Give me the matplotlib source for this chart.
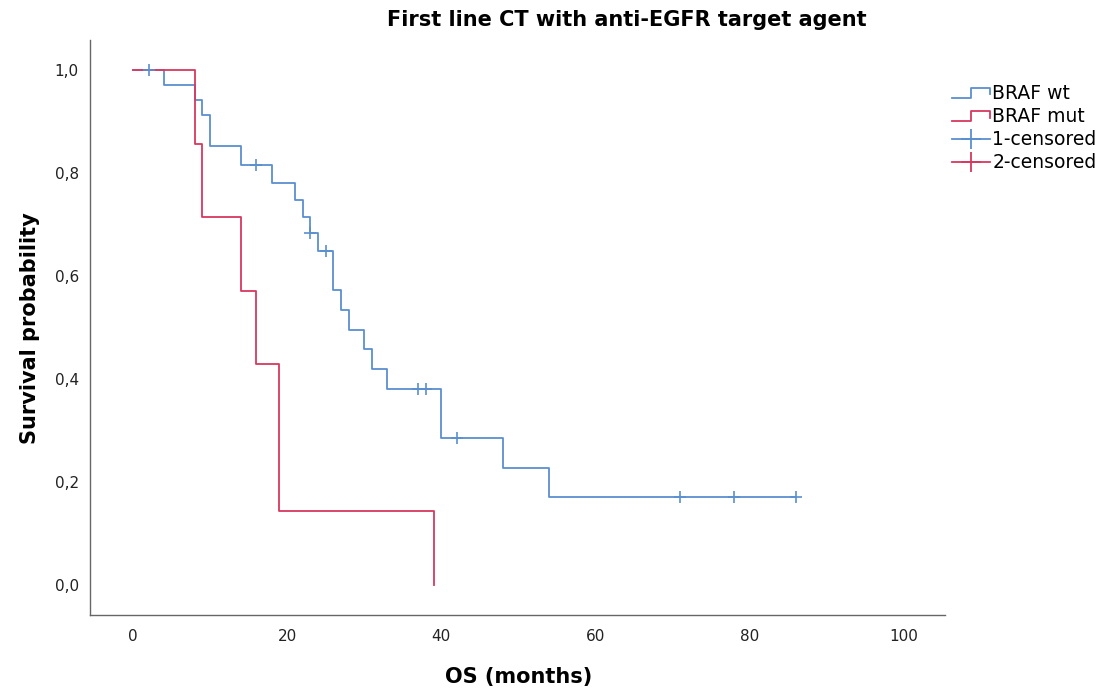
import numpy as np
import matplotlib
matplotlib.use('Agg')
import matplotlib.pyplot as plt
from matplotlib.legend_handler import HandlerLine2D
from matplotlib.lines import Line2D

# Kaplan-Meier step data
wt_times = [0, 4, 8, 9, 10, 14, 18, 21, 22, 23, 24, 26, 27, 28, 30, 31, 33, 40, 48, 54, 86]
wt_surv = [1.0, 0.971, 0.941, 0.912, 0.853, 0.815, 0.781, 0.748, 0.715, 0.683, 0.649,
           0.573, 0.534, 0.495, 0.458, 0.419, 0.381, 0.286, 0.227, 0.171, 0.171]
wt_censor = [2, 16, 23, 25, 37, 38, 42, 71, 78, 86]

mut_times = [0, 8, 9, 14, 16, 19, 39]
mut_surv = [1.0, 0.857, 0.714, 0.571, 0.429, 0.143, 0.0]

x_ticks = [0, 20, 40, 60, 80, 100]
y_ticks = [0.0, 0.2, 0.4, 0.6, 0.8, 1.0]
y_tick_labels = ['0,0', '0,2', '0,4', '0,6', '0,8', '1,0']

BLUE = '#5a8fd0'
RED = '#d8385f'


def surv_at(times, surv, t):
    idx = np.searchsorted(times, t, side='right') - 1
    return np.asarray(surv)[idx]


class StepHandler(HandlerLine2D):
    # small step glyph like the SPSS legend
    def create_artists(self, legend, orig_handle, xdescent, ydescent, width, height, fontsize, trans):
        xs = np.array([0, 0.5, 0.5, 1.0, 1.0]) * width - xdescent
        ys = np.array([0.05, 0.05, 0.85, 0.85, 0.35]) * height - ydescent
        ln = Line2D(xs, ys, color=orig_handle.get_color(), lw=orig_handle.get_linewidth())
        ln.set_transform(trans)
        return [ln]


fig = plt.figure(figsize=(11.05, 6.93), dpi=100)
ax = fig.add_axes([90 / 1105, 78 / 693, 855 / 1105, 575 / 693])

ax.step(wt_times, wt_surv, where='post', color=BLUE, lw=1.3)
ax.step(mut_times, mut_surv, where='post', color=RED, lw=1.3)
ax.plot(wt_censor, surv_at(wt_times, wt_surv, wt_censor), ls='none', marker='+',
        ms=8, mew=1.2, color=BLUE)

ax.set_xlim(-5.6, 105.4)
ax.set_ylim(-0.058, 1.058)
ax.set_xticks(x_ticks)
ax.set_yticks(y_ticks)
ax.set_yticklabels(y_tick_labels)
ax.tick_params(length=0, labelsize=11, colors='#222222')
ax.tick_params(axis='y', pad=8)
ax.tick_params(axis='x', pad=10)
for s in ['top', 'right']:
    ax.spines[s].set_visible(False)
for s in ['left', 'bottom']:
    ax.spines[s].set_color('#666666')
    ax.spines[s].set_linewidth(1.0)

fig.text(519 / 1105, 1 - 677 / 693, 'OS (months)', ha='center', va='center',
         fontsize=15, fontweight='bold')
fig.text(30 / 1105, 1 - 328 / 693, 'Survival probability', ha='center', va='center',
         rotation=90, fontsize=15, fontweight='bold')
fig.text(627 / 1105, 1 - 20 / 693, 'First line CT with anti-EGFR target agent',
         ha='center', va='center', fontsize=15, fontweight='bold')

handles = [
    Line2D([], [], color=BLUE, lw=1.3),
    Line2D([], [], color=RED, lw=1.3),
    Line2D([], [], color=BLUE, lw=1.3, marker='+', ms=14, mew=1.3),
    Line2D([], [], color=RED, lw=1.3, marker='+', ms=14, mew=1.3),
]
labels = ['BRAF wt', 'BRAF mut', '1-censored', '2-censored']
fig.legend(handles, labels, loc='upper left', bbox_to_anchor=(952 / 1105, 1 - 84 / 693),
           frameon=False, fontsize=13.5, handlelength=2.0, handletextpad=0.15,
           labelspacing=0.22, borderpad=0, borderaxespad=0,
           handler_map={handles[0]: StepHandler(), handles[1]: StepHandler()})

fig.savefig('out.png', dpi=100)
